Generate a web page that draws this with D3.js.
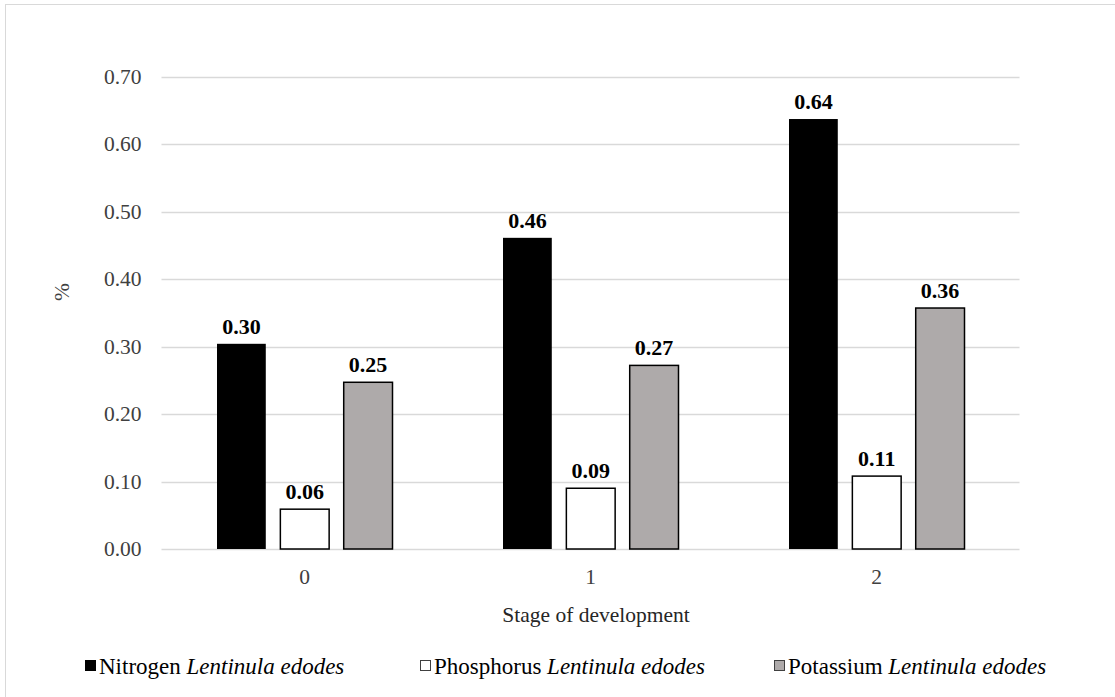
<!DOCTYPE html>
<html>
<head>
<meta charset="utf-8">
<script src="https://cdn.jsdelivr.net/npm/d3@7"></script>
<style>
    body { margin: 0; background: #fff; }
    text { font-family: "Liberation Serif", "Times New Roman", serif; }
</style>
</head>
<body>
<div id="chart"></div>
<script>
// chart values
var stages = ['0', '1', '2'];
var seriesNames = ['Nitrogen', 'Phosphorus', 'Potassium'];
var nitrogen = [0.304, 0.461, 0.637];
var phosphorus = [0.059, 0.090, 0.108];
var potassium = [0.247, 0.272, 0.357];
var yTicks = [0, 0.1, 0.2, 0.3, 0.4, 0.5, 0.6, 0.7];

var seriesValues = [nitrogen, phosphorus, potassium];
var fills = ['#000000', '#ffffff', '#aeaaaa'];

var W = 1115, H = 697;
var plot = { left: 161.5, right: 1019.5, top: 76.5, bottom: 549 };

var svg = d3.select('#chart').append('svg')
    .attr('width', W)
    .attr('height', H);

// outer frame (right and bottom edges fall outside the picture)
svg.append('rect')
    .attr('x', 5.5).attr('y', 4.5)
    .attr('width', 1120).attr('height', 710)
    .attr('fill', '#fff')
    .attr('stroke', '#d9d9d9');

var x0 = d3.scaleBand().domain(stages).range([plot.left, plot.right]);
var x1 = d3.scaleBand().domain(seriesNames)
    .range([55.5, x0.bandwidth() - 55])
    .paddingInner(0.23);
var y = d3.scaleLinear().domain([0, 0.7]).range([plot.bottom, plot.top]);

// gridlines
svg.append('g').selectAll('line')
    .data(yTicks)
    .join('line')
    .attr('x1', plot.left).attr('x2', plot.right)
    .attr('y1', function (d) { return Math.round(y(d)) + 0.5; })
    .attr('y2', function (d) { return Math.round(y(d)) + 0.5; })
    .attr('stroke', '#d9d9d9')
    .attr('stroke-width', 1.3);

// y tick labels
var yAxis = d3.axisLeft(y).tickValues(yTicks).tickSize(0).tickPadding(20)
    .tickFormat(d3.format('.2f'));
var gy = svg.append('g')
    .attr('transform', 'translate(' + plot.left + ',0)')
    .call(yAxis);
gy.select('.domain').remove();
gy.selectAll('text')
    .attr('font-size', 21.5)
    .attr('fill', '#404040')
    .style('font-family', '"Liberation Serif", serif');

// bars
var groups = svg.append('g').selectAll('g')
    .data(stages)
    .join('g')
    .attr('transform', function (d) { return 'translate(' + x0(d) + ',0)'; });

function rows(d, i) {
    return seriesNames.map(function (s, j) { return { s: s, j: j, v: seriesValues[j][i] }; });
}

groups.selectAll('rect')
    .data(rows)
    .join('rect')
    .attr('x', function (d) { return x1(d.s); })
    .attr('width', x1.bandwidth())
    .attr('y', function (d) { return y(d.v); })
    .attr('height', function (d) { return y(0) - y(d.v); })
    .attr('fill', function (d) { return fills[d.j]; })
    .attr('stroke', function (d) { return d.j == 0 ? 'none' : '#000'; })
    .attr('stroke-width', 1.5);

// value labels
groups.selectAll('text')
    .data(rows)
    .join('text')
    .attr('x', function (d) { return x1(d.s) + x1.bandwidth() / 2; })
    .attr('y', function (d) { return y(d.v) - 10; })
    .attr('text-anchor', 'middle')
    .attr('font-size', 22)
    .attr('font-weight', 'bold')
    .attr('fill', '#000')
    .text(function (d) { return d.v.toFixed(2); });

// category axis
var xAxis = d3.axisBottom(x0).tickSize(0).tickPadding(20);
var gx = svg.append('g')
    .attr('transform', 'translate(0,' + plot.bottom + ')')
    .call(xAxis);
gx.select('.domain').remove();
gx.selectAll('text')
    .attr('font-size', 21.5)
    .attr('fill', '#404040')
    .style('font-family', '"Liberation Serif", serif');

// axis titles
svg.append('text')
    .attr('x', 596).attr('y', 622)
    .attr('text-anchor', 'middle')
    .attr('font-size', 21.5)
    .attr('fill', '#262626')
    .text('Stage of development');

svg.append('text')
    .attr('transform', 'translate(69,292) rotate(-90)')
    .attr('text-anchor', 'middle')
    .attr('font-size', 21.5)
    .attr('fill', '#404040')
    .text('%');

// legend
var legendX = [85, 420, 774];
var legend = svg.append('g').selectAll('g')
    .data(seriesNames)
    .join('g')
    .attr('transform', function (d, i) { return 'translate(' + legendX[i] + ',667)'; });

legend.append('rect')
    .attr('x', 0.5).attr('y', -6.5)
    .attr('width', 10).attr('height', 10)
    .attr('fill', function (d, i) { return fills[i]; })
    .attr('stroke', function (d, i) { return i == 0 ? '#000' : '#404040'; })
    .attr('stroke-width', 1);

var lt = legend.append('text')
    .attr('x', 14)
    .attr('y', 7)
    .attr('font-size', 23)
    .attr('fill', '#000');
lt.append('tspan').text(function (d) { return d + ' '; });
lt.append('tspan').attr('font-style', 'italic').text('Lentinula edodes');
</script>
</body>
</html>
